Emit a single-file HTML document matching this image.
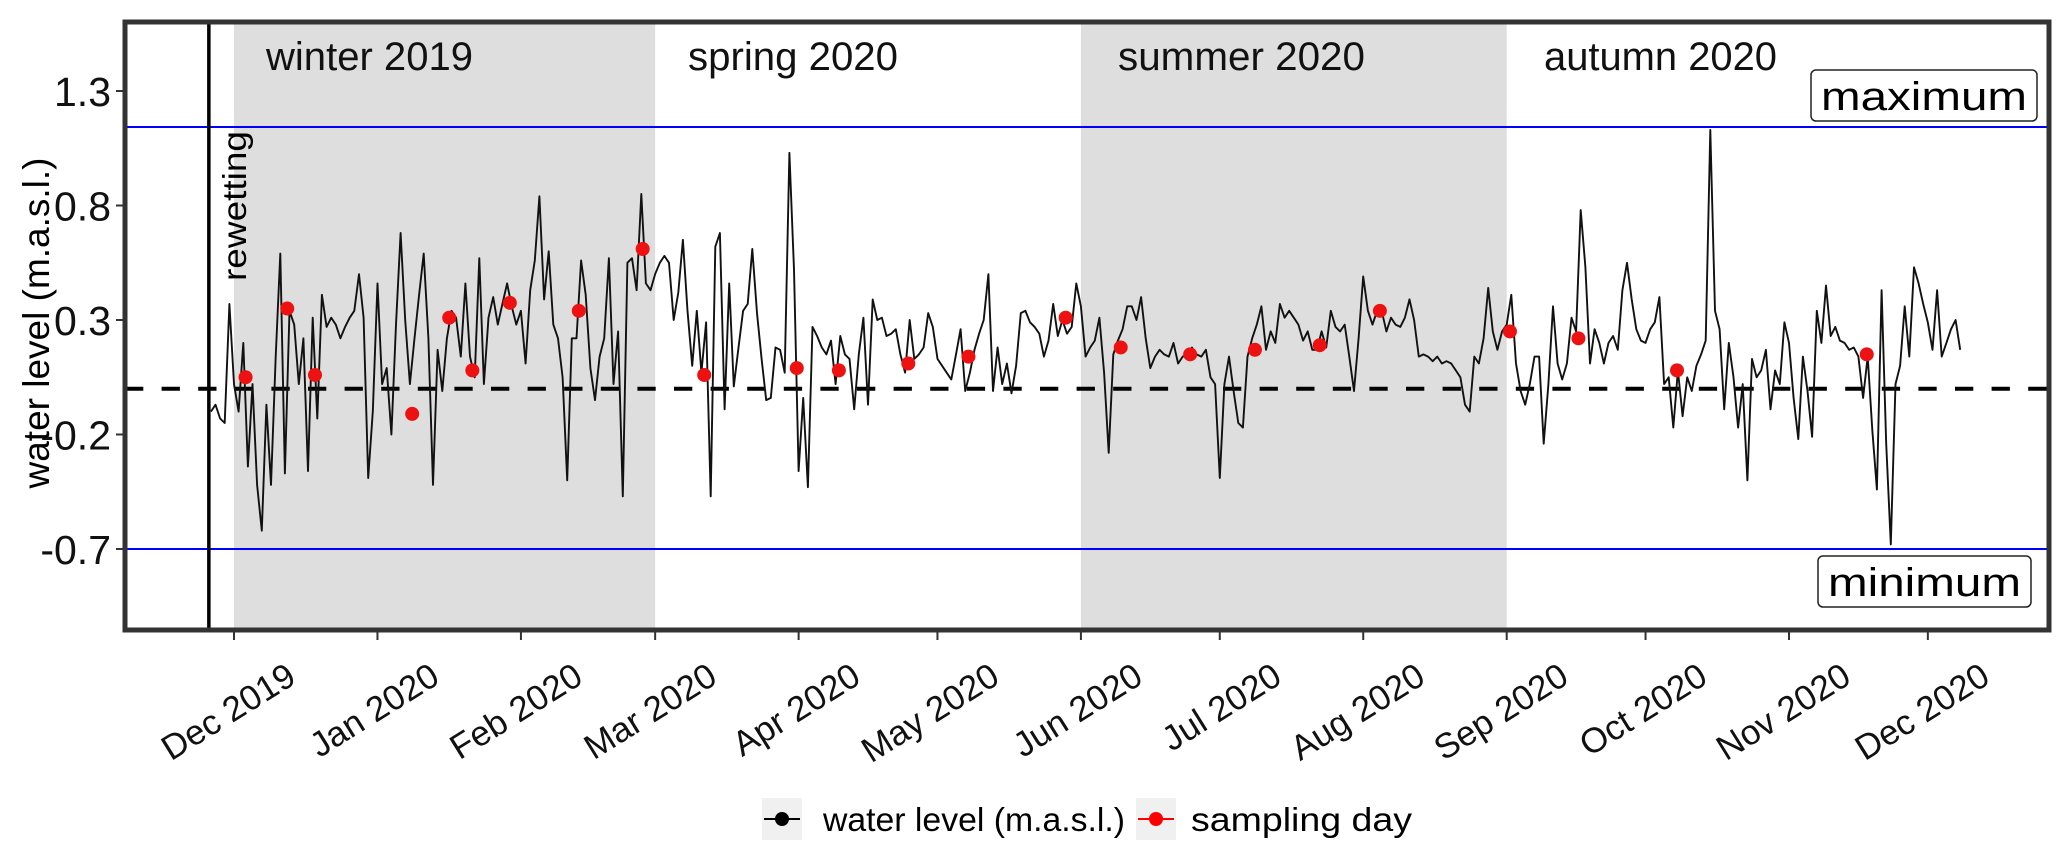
<!DOCTYPE html>
<html><head><meta charset="utf-8"><title>Water level</title>
<style>
html,body{margin:0;padding:0;background:#fff;}
svg{display:block;font-family:"Liberation Sans",Arial,sans-serif;}
</style></head>
<body>
<svg id="chart" width="2067" height="857" viewBox="0 0 2067 857" xmlns="http://www.w3.org/2000/svg"></svg>
<script>
// ---- data ----
const startDay = -5; // days relative to 1 Dec 2019
const levels = [
-0.10,-0.07,-0.13,-0.15,0.37,
0.02,-0.10,0.20,-0.34,0.02,-0.42,-0.62,-0.07,-0.42,0.14,0.59,-0.37,0.34,0.28,0.02,0.22,-0.36,0.31,-0.13,0.41,
0.27,0.31,0.28,0.22,0.27,0.31,0.34,0.50,0.31,-0.39,-0.10,0.46,0.02,0.09,-0.20,0.28,0.68,0.30,0.02,0.22,
0.41,0.59,0.22,-0.42,0.17,-0.01,0.22,0.34,0.31,0.14,0.46,0.14,0.05,0.57,0.02,0.31,0.40,0.28,0.37,0.46,
0.36,0.28,0.34,0.11,0.43,0.56,0.84,0.39,0.60,0.28,0.22,0.05,-0.40,0.22,0.22,0.56,0.41,0.09,-0.05,0.14,
0.22,0.57,0.02,0.25,-0.47,0.55,0.57,0.43,0.85,0.46,0.43,
0.50,0.55,0.58,0.55,0.30,0.42,0.65,0.34,0.10,0.34,0.07,0.29,-0.47,0.62,0.68,-0.09,0.46,0.01,0.18,0.34,
0.37,0.61,0.33,0.13,-0.05,-0.04,0.18,0.17,0.07,1.03,0.52,-0.36,-0.04,-0.43,0.27,0.23,0.18,0.15,0.21,0.02,
0.23,0.15,0.13,-0.09,0.15,0.31,-0.07,0.39,0.30,0.31,0.23,0.24,0.26,0.15,0.07,0.30,0.13,0.15,0.18,0.33,
0.27,0.13,0.10,0.07,0.04,0.15,0.26,-0.01,0.07,0.17,0.24,0.30,0.50,-0.01,0.18,0.02,0.11,-0.02,0.10,0.33,
0.34,0.29,0.27,0.24,0.14,0.21,0.37,0.23,0.30,0.24,0.27,0.46,0.36,0.14,0.18,0.21,0.31,0.07,-0.28,0.15,
0.21,0.26,0.36,
0.36,0.30,0.40,0.22,0.09,0.14,0.17,0.15,0.14,0.20,0.11,0.14,0.15,0.18,0.15,0.14,0.17,0.05,0.02,-0.39,
0.02,0.14,-0.01,-0.15,-0.17,0.14,0.22,0.28,0.36,0.17,0.25,0.20,0.37,0.31,0.34,0.31,0.28,0.21,0.25,0.17,
0.17,0.25,0.18,0.34,0.27,0.25,0.28,0.14,-0.01,0.22,0.49,0.34,0.28,0.34,0.34,0.25,0.31,0.28,0.27,0.31,
0.39,0.30,0.14,0.15,0.14,0.12,0.14,0.11,0.12,0.11,0.08,0.05,-0.07,-0.10,0.14,0.11,0.22,0.44,0.25,0.17,
0.25,0.28,0.41,0.11,-0.01,-0.07,0.02,0.14,0.14,-0.24,0.02,0.36,0.11,0.04,0.11,0.31,0.25,
0.78,0.53,0.11,0.26,0.20,0.11,0.20,0.23,0.17,0.43,0.55,0.39,0.26,0.21,0.20,0.26,0.29,0.40,0.02,0.05,
-0.17,0.08,-0.12,0.05,-0.01,0.10,0.15,0.21,1.13,0.34,0.26,-0.09,0.20,0.05,-0.17,0.02,-0.40,0.13,0.05,0.08,
0.17,-0.09,0.08,0.02,0.29,0.20,-0.04,-0.22,0.14,-0.01,-0.21,0.34,0.20,0.45,0.23,0.27,0.21,0.20,0.17,0.18,
0.14,-0.04,0.14,-0.18,-0.44,0.43,-0.24,-0.68,0.02,0.10,0.36,0.14,0.53,0.46,0.37,0.29,0.17,0.43,0.14,0.20,
0.26,0.30,0.17
];
const sampleDays = [2.5,11.5,17.5,38.5,46.5,51.5,59.6,74.5,88.3,101.6,121.6,130.7,145.7,158.7,179.7,191.6,206.6,220.6,234.6,247.6,275.7,290.5,311.8,352.8];
const sampleLevels = [0.05,0.35,0.06,-0.11,0.31,0.08,0.375,0.34,0.61,0.06,0.09,0.08,0.11,0.14,0.31,0.18,0.15,0.17,0.19,0.34,0.25,0.22,0.08,0.15];
const monthLabels = ["Dec 2019","Jan 2020","Feb 2020","Mar 2020","Apr 2020","May 2020","Jun 2020","Jul 2020","Aug 2020","Sep 2020","Oct 2020","Nov 2020","Dec 2020"];
const monthDays = [0,31,62,91,122,152,183,213,244,275,305,336,366];
const yTicks = [1.3,0.8,0.3,-0.2,-0.7];
const yTickLabels = ["1.3","0.8","0.3","-0.2","-0.7"];
const maxLevel = 1.143, minLevel = -0.70, refLevel = 0.0;
const rewettingDay = -5;
const seasons = [["winter 2019",0,91,true],["spring 2020",91,183,false],["summer 2020",183,275,true],["autumn 2020",275,366,false]];

// ---- scales ----
const L=125,R=2049,T=22,B=630;
const x = d => 234 + d*4.628;
const y = v => 320 - (v-0.3)*229;
const NS="http://www.w3.org/2000/svg";
const svg=document.getElementById('chart');
function mk(tag, attrs, parent){const e=document.createElementNS(NS,tag);for(const k in attrs)e.setAttribute(k,attrs[k]);(parent||svg).appendChild(e);return e;}

// seasons shading + labels
const seasonLabelX=[266,688,1118,1544];
const seasonLabelW=[207,210,247,233];
seasons.forEach((s,i)=>{
  if(s[3]){
    const r=mk('rect',{x:x(s[1]),y:T,width:x(s[2])-x(s[1]),height:B-T,fill:'#dedede'});
    
    
  }
  const t=mk('text',{x:seasonLabelX[i],y:70,'font-size':40,fill:'#111',textLength:seasonLabelW[i],lengthAdjust:'spacingAndGlyphs'});
  t.textContent=s[0];
  
  
});

// reference lines
const mx=mk('line',{x1:L,x2:R,y1:y(maxLevel),y2:y(maxLevel),stroke:'#0000ff','stroke-width':2});


const mn=mk('line',{x1:L,x2:R,y1:y(minLevel),y2:y(minLevel),stroke:'#0000ff','stroke-width':2});


const dl=mk('line',{x1:L,x2:R,y1:y(refLevel),y2:y(refLevel),stroke:'#000','stroke-width':4,'stroke-dasharray':'18.3 18.3'});



// rewetting line
const rw=mk('line',{x1:x(rewettingDay)-2,x2:x(rewettingDay)-2,y1:T,y2:B,stroke:'#000','stroke-width':3.5});


const rwt=mk('text',{x:0,y:0,'font-size':33,fill:'#000',transform:'translate(246,281) rotate(-90)',textLength:150,lengthAdjust:'spacingAndGlyphs'});
rwt.textContent='rewetting';



// water level series
let dstr='';
levels.forEach((v,i)=>{dstr+=(i?'L':'M')+x(startDay+i).toFixed(1)+' '+y(v).toFixed(1);});
const wl=mk('path',{d:dstr,fill:'none',stroke:'#111','stroke-width':1.9,'stroke-linejoin':'round'});



// sampling dots
sampleDays.forEach((d,i)=>{
  const c=mk('circle',{cx:x(d),cy:y(sampleLevels[i]),r:7,fill:'#ee1111'});
  
  
});

// max / min boxes
function box(label,bx,by,bw,bh,name){
  const g=mk('g',{});
  
  
  mk('rect',{x:bx,y:by,width:bw,height:bh,rx:5,fill:'#fff',stroke:'#222','stroke-width':1.5},g);
  const t=mk('text',{x:bx+bw/2,y:by+bh-11,'font-size':40,'text-anchor':'middle',fill:'#000',textLength:bw-20,lengthAdjust:'spacingAndGlyphs'},g);
  t.textContent=label;
}
box('maximum',1811,70,226,51,'maximum-label');
box('minimum',1818,556,213,51,'minimum-label');

// border
const bd=mk('rect',{x:L,y:T,width:R-L,height:B-T,fill:'none',stroke:'#333','stroke-width':5});



// y axis
yTicks.forEach((v,i)=>{
  const tk=mk('line',{x1:L-9,x2:L-2,y1:y(v),y2:y(v),stroke:'#333','stroke-width':2});
  
  
  const t=mk('text',{x:111,y:y(v)+15,'font-size':41,'text-anchor':'end',fill:'#111'});
  t.textContent=yTickLabels[i];
  
  
});
const yt=mk('text',{x:0,y:0,'font-size':37,'text-anchor':'middle',fill:'#000',transform:'translate(49,323) rotate(-90)',textLength:331,lengthAdjust:'spacingAndGlyphs'});
yt.textContent='water level (m.a.s.l.)';



// x axis
monthDays.forEach((d,i)=>{
  const tk=mk('line',{x1:x(d),x2:x(d),y1:B+2,y2:B+10,stroke:'#333','stroke-width':2});
  
  
  const t=mk('text',{x:0,y:0,'font-size':35,'text-anchor':'end',fill:'#111',transform:'translate('+(x(d)+64)+',682) rotate(-32)'});
  t.textContent=monthLabels[i];
  
  
});

// legend
const lg=mk('g',{});


const k1=mk('g',{},lg);


mk('rect',{x:762,y:798,width:40,height:42,fill:'#f0f0f0'},k1);
mk('line',{x1:764,x2:800,y1:819,y2:819,stroke:'#000','stroke-width':2},k1);
mk('circle',{cx:782,cy:819,r:7,fill:'#000'},k1);
const lt1=mk('text',{x:823,y:831,'font-size':33,fill:'#000',textLength:302,lengthAdjust:'spacingAndGlyphs'},k1);
lt1.textContent='water level (m.a.s.l.)';
const k2=mk('g',{},lg);


mk('rect',{x:1136,y:798,width:40,height:42,fill:'#f0f0f0'},k2);
mk('line',{x1:1138,x2:1174,y1:819,y2:819,stroke:'#f00','stroke-width':2},k2);
mk('circle',{cx:1156,cy:819,r:7,fill:'#f00'},k2);
const lt2=mk('text',{x:1191,y:831,'font-size':33,fill:'#000',textLength:221,lengthAdjust:'spacingAndGlyphs'},k2);
lt2.textContent='sampling day';
</script>
</body></html>
